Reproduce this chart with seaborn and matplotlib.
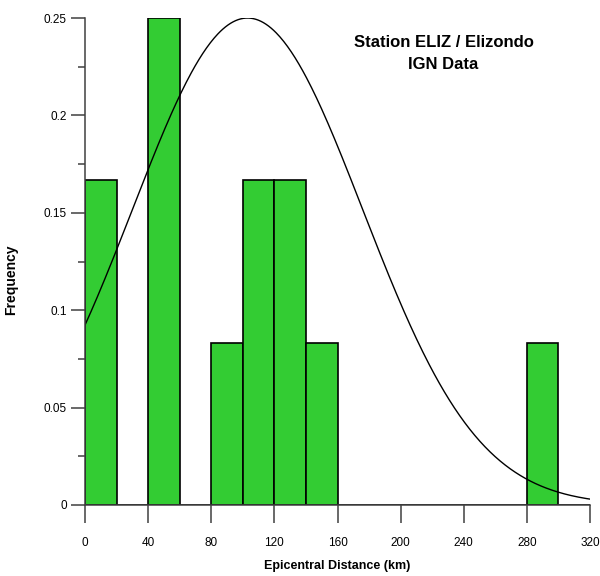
import numpy as np
import pandas as pd
import matplotlib
matplotlib.use("Agg")
import matplotlib.pyplot as plt
import seaborn as sns
from matplotlib.ticker import MultipleLocator, FormatStrFormatter

# epicentral distances (km) of the events
distances = [6, 14, 43, 49, 55, 92, 104, 113, 124, 133, 151, 287]

# fitted normal curve, scaled to the peak frequency
fit_mean = 103.0
fit_sd = 73.0
fit_peak = 0.25

title = "Station ELIZ / Elizondo\nIGN Data"

df = pd.DataFrame({"distance": distances})

sns.set_style("white")
plt.rcParams["font.family"] = ["Liberation Sans", "DejaVu Sans"]
plt.rcParams["text.color"] = "black"
plt.rcParams["axes.labelcolor"] = "black"
plt.rcParams["xtick.labelcolor"] = "black"
plt.rcParams["ytick.labelcolor"] = "black"

fig = plt.figure(figsize=(6, 5.76), dpi=100)
ax = fig.add_axes([0.1417, 0.1233, 0.8416, 0.8454])

sns.histplot(data=df, x="distance", stat="probability", binwidth=20, binrange=(0, 320),
             color="#33cc33", edgecolor="black", linewidth=1.2, alpha=1, ax=ax)

xs = np.linspace(0, 320, 400)
ys = fit_peak * np.exp(-(xs - fit_mean) ** 2 / (2 * fit_sd ** 2))
sns.lineplot(x=xs, y=ys, color="black", linewidth=1, ax=ax)

ax.set_xlim(0, 320)
ax.set_ylim(0, 0.25)
ax.xaxis.set_major_locator(MultipleLocator(40))
ax.yaxis.set_major_locator(MultipleLocator(0.05))
ax.yaxis.set_minor_locator(MultipleLocator(0.025))
ax.yaxis.set_major_formatter(FormatStrFormatter("%g"))

for side in ["top", "right"]:
    ax.spines[side].set_visible(False)
for side in ["left", "bottom"]:
    ax.spines[side].set_color("#404040")
    ax.spines[side].set_linewidth(1.1)

ax.tick_params(axis="y", which="major", direction="out", length=10, width=1.1,
               color="#404040", labelsize=8.5, pad=3, left=True)
ax.tick_params(axis="y", which="minor", direction="out", length=5, width=1.1,
               color="#404040", left=True)
ax.tick_params(axis="x", which="major", direction="out", length=13, width=1.1,
               color="#404040", labelsize=8.5, pad=10, bottom=True)

ax.set_xlabel("Epicentral Distance (km)", fontsize=9, fontweight="bold", labelpad=8)
ax.set_ylabel("Frequency", fontsize=10, fontweight="bold")
ax.yaxis.set_label_coords(-0.133, 0.462)

ax.text(0.71, 0.965, title, transform=ax.transAxes, ha="center", va="top",
        fontsize=12, fontweight="bold", linespacing=1.55)

fig.savefig("out.png", dpi=100)
